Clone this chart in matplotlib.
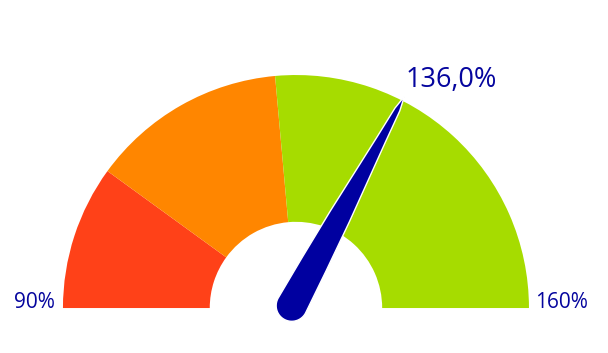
import numpy as np
import matplotlib.pyplot as plt
from matplotlib.patches import Wedge, Polygon

plt.rcParams["font.family"] = ["Open Sans", "DejaVu Sans"]

# gauge data
min_val = 90
max_val = 160
band_edges = [90, 104, 123, 160]
band_colors = ["#FF4118", "#FF8600", "#A6DC00"]
value = 136.0
value_label = "136,0%"
min_label = "90%"
max_label = "160%"

text_color = "#05059E"
needle_color = "#0000A0"

R_IN = 0.37


def to_angle(v):
    # 0 deg on the right, 180 on the left
    return 180.0 - (v - min_val) / (max_val - min_val) * 180.0


fig = plt.figure(figsize=(6.08, 3.53), dpi=100)
ax = fig.add_axes([0, 0, 1, 1])
ax.set_xlim(-1.270, 1.339)
ax.set_ylim(-0.193, 1.322)
ax.set_aspect("equal")
ax.axis("off")

for lo, hi, c in zip(band_edges[:-1], band_edges[1:], band_colors):
    ax.add_patch(Wedge((0, 0), 1.0, to_angle(hi), to_angle(lo),
                       width=1.0 - R_IN, facecolor=c, edgecolor="none"))

# needle: round bulb, tapering to the tip
th = np.radians(to_angle(value))
pivot = np.array([-0.018, 0.010])
rb = 0.067
length = 1.02
u = np.array([np.cos(th), np.sin(th)])
n = np.array([-np.sin(th), np.cos(th)])
# half-width along the needle (shape, not data)
prof_s = [0.0, 0.2, 0.436, 0.81, 0.956]
prof_w = [0.067, 0.059, 0.047, 0.021, 0.012]
arc = np.linspace(np.pi / 2, 3 * np.pi / 2, 50)
pts = [pivot + rb * (np.cos(a) * u + np.sin(a) * n) for a in arc]
for s, w in zip(prof_s, prof_w):
    pts.append(pivot + s * u - w * n)
pts.append(pivot + length * u)
for s, w in zip(prof_s[::-1], prof_w[::-1]):
    pts.append(pivot + s * u + w * n)
ax.add_patch(Polygon(pts, closed=True, facecolor=needle_color,
                     edgecolor="white", linewidth=1.0, joinstyle="round", zorder=5))

tip = pivot + length * u
ax.text(tip[0] + 0.005, tip[1] + 0.041, value_label, fontsize=19.5,
        color=text_color, ha="left", va="baseline")
ax.text(-1.034, 0.0, min_label, fontsize=15, color=text_color,
        ha="right", va="baseline")
ax.text(1.026, 0.0, max_label, fontsize=15, color=text_color,
        ha="left", va="baseline")

fig.savefig("out.png", dpi=100)
